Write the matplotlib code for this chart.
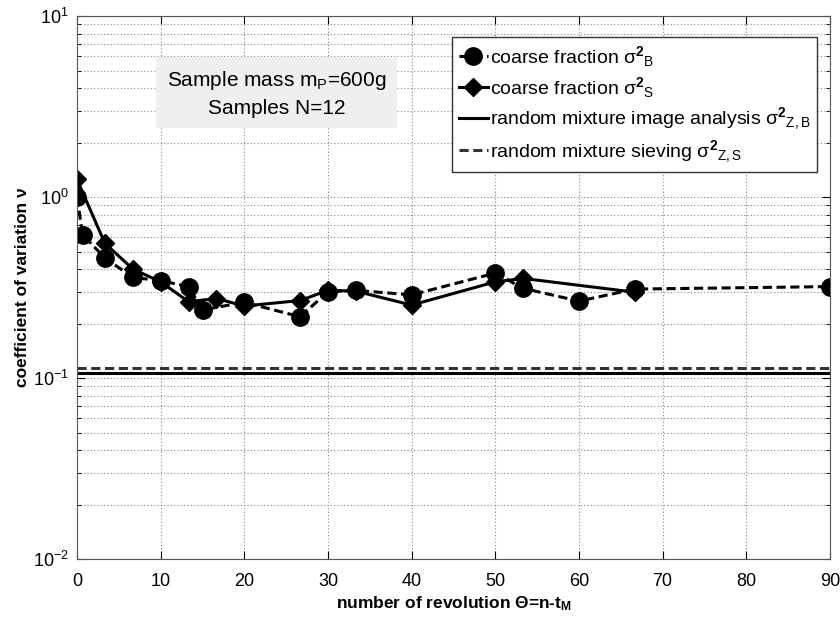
import numpy as np
import matplotlib
matplotlib.use('Agg')
import matplotlib.pyplot as plt
from matplotlib.ticker import LogLocator, MultipleLocator

plt.rcParams['font.family'] = ['Liberation Sans', 'DejaVu Sans']
plt.rcParams['mathtext.fontset'] = 'custom'
plt.rcParams['mathtext.rm'] = 'Liberation Sans'
plt.rcParams['mathtext.it'] = 'Liberation Sans:italic'
plt.rcParams['mathtext.bf'] = 'Liberation Sans:bold'

# coarse fraction, image analysis (circles, dashed)
theta_b = [0, 0.67, 3.33, 6.67, 10, 13.33, 15, 20, 26.67, 30, 33.33, 40, 50, 53.33, 60, 66.67, 90]
cv_b = [1.0, 0.62, 0.46, 0.36, 0.345, 0.32, 0.238, 0.262, 0.218, 0.30, 0.305, 0.288, 0.38, 0.313, 0.266, 0.31, 0.32]

# coarse fraction, sieving (diamonds, solid)
theta_s = [0, 3.33, 6.67, 10, 13.33, 16.67, 20, 26.67, 30, 33.33, 40, 50, 53.33, 66.67]
cv_s = [1.25, 0.555, 0.40, 0.34, 0.264, 0.275, 0.25, 0.268, 0.305, 0.302, 0.253, 0.34, 0.355, 0.298]

# random mixture reference values
cv_zb = 0.106
cv_zs = 0.113

fig = plt.figure(figsize=(8.4, 6.21), dpi=100)
ax = fig.add_axes([0.0917, 0.0998, 0.8963, 0.8744])

ax.plot(theta_b, cv_b, color='black', lw=2.2, ls=(0, (3, 1.5)), marker='o', ms=12.5,
        label=r'coarse fraction σ$^{\mathbf{2}}{}_{\mathrm{B}}$')
ax.plot(theta_s, cv_s, color='black', lw=2.2, ls='-', marker='D', ms=9.5,
        label=r'coarse fraction σ$^{\mathbf{2}}{}_{\mathrm{S}}$')
ax.axhline(cv_zb, color='black', lw=2.2, ls='-',
           label=r'random mixture image analysis σ$^{\mathbf{2}}{}_{\mathrm{Z,B}}$')
ax.axhline(cv_zs, color='#333333', lw=2.2, ls=(0, (3, 1.5)),
           label=r'random mixture sieving σ$^{\mathbf{2}}{}_{\mathrm{Z,S}}$')

ax.set_yscale('log')
ax.set_xlim(0, 90)
ax.set_ylim(1e-2, 1e1)
ax.xaxis.set_major_locator(MultipleLocator(10))
ax.yaxis.set_major_locator(LogLocator(base=10))
ax.yaxis.set_minor_locator(LogLocator(base=10, subs=np.arange(2, 10)))
ax.yaxis.set_minor_formatter(plt.NullFormatter())

ax.grid(True, which='major', axis='both', ls=(0, (1, 2)), color='#888888', lw=0.8)
ax.grid(True, which='minor', axis='y', ls=(0, (1, 2)), color='#888888', lw=0.8)
ax.tick_params(which='both', direction='in', top=True, right=True, labelsize=13)
ax.tick_params(axis='x', pad=10)
ax.tick_params(axis='y', pad=6)
ax.tick_params(which='major', length=6)
ax.tick_params(which='minor', length=3)
for s in ax.spines.values():
    s.set_color('#555555')

ax.set_xlabel(r'number of revolution Θ=n-t$_{\mathbf{M}}$', fontsize=12.5, fontweight='bold', labelpad=3)
ax.set_ylabel('coefficient of variation ν', fontsize=12.5, fontweight='bold', labelpad=2)

leg = ax.legend(loc='upper right', bbox_to_anchor=(0.983, 0.961), fontsize=14, handlelength=1.5,
                handletextpad=0.1, borderaxespad=0, fancybox=False, framealpha=1,
                labelspacing=0.3, borderpad=0.35)
leg.get_frame().set_edgecolor('#333333')
leg.get_frame().set_linewidth(1)

ax.text(0.265, 0.857, 'Sample mass m$_{\\mathrm{P}}$=600g\nSamples N=12', transform=ax.transAxes,
        ha='center', va='center', fontsize=15, linespacing=1.45,
        bbox=dict(boxstyle='square,pad=0.5', facecolor='#efefef', edgecolor='none'))

fig.savefig('out.png', dpi=100)
